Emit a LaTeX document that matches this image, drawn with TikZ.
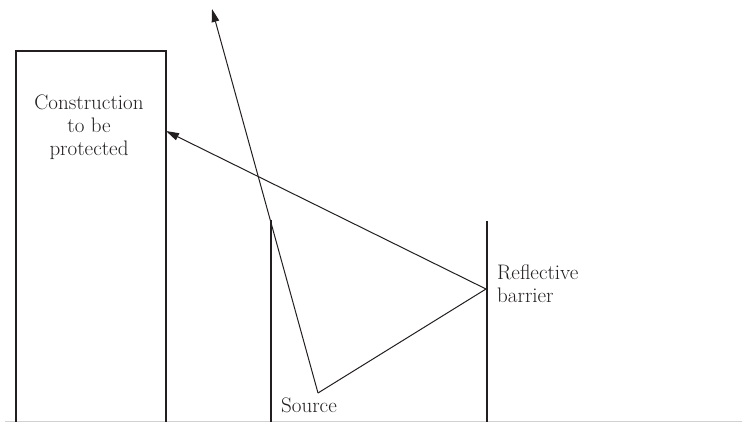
\documentclass[tikz,border=0pt]{standalone}
\usetikzlibrary{arrows.meta}
\definecolor{ink}{HTML}{231F20}
\begin{document}
\begin{tikzpicture}[x=1pt,y=-1pt,
  wall/.style={draw=ink,line width=2.2pt},
  ray/.style={draw=ink,line width=1pt},
  rayarrow/.style={ray,-{Triangle[length=13pt,width=7.5pt]}},
  lbl/.style={font=\fontsize{21}{23}\selectfont,text=ink,inner sep=0pt}]
\useasboundingbox (0,0) rectangle (742,422);
% ground line
\draw[color=black!18,line width=1.5pt] (5,421.5) -- (742,421.5);
% construction
\draw[wall] (16,422) -- (16,51) -- (166,51) -- (166,422);
\node[lbl,align=center] (constr) at (89,127) {Construction\\to be\\protected};
% barriers
\coordinate (b1top) at (271,220);
\coordinate (b1bot) at (271,422);
\coordinate (b2top) at (487,221);
\coordinate (b2bot) at (487,422);
\draw[wall] (b1top) -- (b1bot);
\draw[wall] (b2top) -- (b2bot);
% rays
\coordinate (src) at (318,393);
\coordinate (refl) at (486,289);
\coordinate (hit) at (166,131);
\coordinate (sky) at (212,9);
\draw[rayarrow] (src) -- (sky);
\draw[ray] (src) -- (refl);
\draw[rayarrow] (refl) -- (hit);
% labels
\node[lbl,anchor=west] (srclbl) at (281,405) {Source};
\node[lbl,anchor=west,align=left] (refllbl) at (497,284) {Reflective\\barrier};
\end{tikzpicture}
\end{document}
